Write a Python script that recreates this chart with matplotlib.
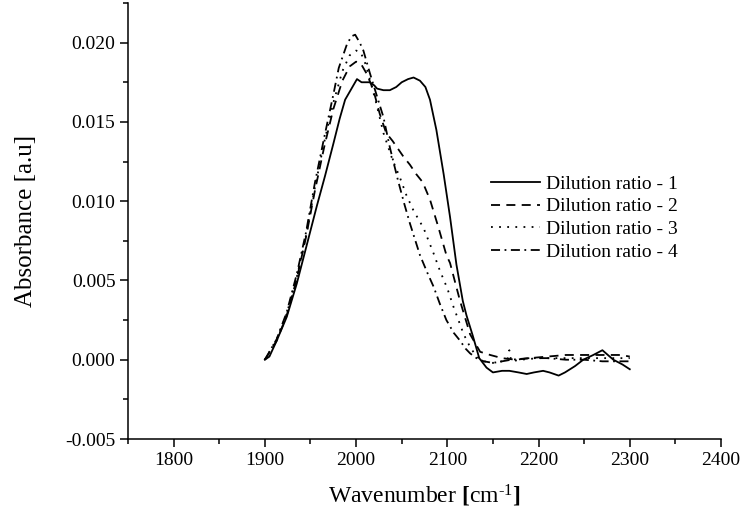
import matplotlib
matplotlib.use("Agg")
import matplotlib.pyplot as plt
from matplotlib.ticker import AutoMinorLocator, FormatStrFormatter, MultipleLocator

plt.rcParams['font.family'] = ['Liberation Serif', 'DejaVu Serif']
plt.rcParams['mathtext.fontset'] = 'custom'
plt.rcParams['mathtext.rm'] = 'Liberation Serif'
plt.rcParams['mathtext.bf'] = 'Liberation Serif:bold'
plt.rcParams['mathtext.it'] = 'Liberation Serif:italic'
plt.rcParams['axes.unicode_minus'] = False

# ---- data ----
wn1 = [1900, 1905, 1913, 1924, 1935, 1944, 1957, 1966, 1975, 1982, 1988, 1994, 1998, 2001,
       2006, 2015, 2020, 2023, 2030, 2037, 2044, 2050, 2057, 2063, 2070, 2076, 2081, 2088,
       2096, 2103, 2110, 2117, 2121, 2128, 2135, 2143, 2150, 2160, 2168, 2178, 2187, 2195,
       2205, 2212, 2222, 2229, 2240, 2249, 2260, 2270, 2276, 2282, 2292, 2300]
ab1 = [0.0000, 0.0002, 0.0012, 0.0027, 0.0048, 0.0068, 0.0097, 0.0116, 0.0136, 0.0152,
       0.0164, 0.0170, 0.0174, 0.0177, 0.0175, 0.0175, 0.0173, 0.0171, 0.0170, 0.0170,
       0.0172, 0.0175, 0.0177, 0.0178, 0.0176, 0.0172, 0.0164, 0.0145, 0.0117, 0.0090,
       0.0060, 0.0037, 0.0028, 0.0015, 0.0001, -0.0005, -0.0008, -0.0007, -0.0007, -0.0008,
       -0.0009, -0.0008, -0.0007, -0.0008, -0.0010, -0.0008, -0.0004, 0.0000, 0.0003,
       0.0006, 0.0003, 0.0000, -0.0003, -0.0006]

wn2 = [1900, 1913, 1924, 1935, 1945, 1955, 1965, 1975, 1985, 1993, 2000, 2005, 2012, 2019,
       2026, 2033, 2040, 2046, 2052, 2059, 2066, 2073, 2081, 2090, 2099, 2103, 2114, 2125,
       2136, 2147, 2160, 2175, 2190, 2210, 2230, 2250, 2270, 2290, 2300]
ab2 = [0.0000, 0.0012, 0.0028, 0.0051, 0.0077, 0.0107, 0.0134, 0.0158, 0.0176, 0.0185,
       0.0188, 0.0187, 0.0180, 0.0170, 0.0155, 0.0143, 0.0138, 0.0133, 0.0128, 0.0123,
       0.0117, 0.0112, 0.0101, 0.0084, 0.0066, 0.0061, 0.0037, 0.0016, 0.0005, 0.0003,
       0.0001, 0.0000, 0.0001, 0.0002, 0.0003, 0.0003, 0.0003, 0.0003, 0.0002]

wn3 = [1900, 1913, 1924, 1935, 1945, 1955, 1965, 1975, 1985, 1993, 2000, 2005, 2010, 2016,
       2022, 2030, 2040, 2048, 2055, 2063, 2074, 2085, 2092, 2100, 2107, 2118, 2125, 2132,
       2140, 2150, 2160, 2166, 2168, 2170, 2180, 2200, 2230, 2260, 2280, 2300]
ab3 = [0.0000, 0.0013, 0.0029, 0.0052, 0.0078, 0.0109, 0.0137, 0.0162, 0.0182, 0.0192,
       0.0195, 0.0194, 0.0187, 0.0175, 0.0162, 0.0143, 0.0126, 0.0115, 0.0104, 0.0094,
       0.0083, 0.0067, 0.0056, 0.0045, 0.0033, 0.0016, 0.0008, 0.0002, -0.0001, -0.0002,
       -0.0001, 0.0000, 0.0006, -0.0001, 0.0000, 0.0001, 0.0001, 0.0001, 0.0001, 0.0001]

wn4 = [1900, 1913, 1924, 1935, 1945, 1955, 1965, 1975, 1981, 1990, 1995, 1999, 2004, 2008,
       2015, 2023, 2030, 2037, 2046, 2053, 2059, 2070, 2078, 2085, 2092, 2099, 2107, 2114,
       2120, 2125, 2132, 2140, 2150, 2170, 2190, 2210, 2230, 2250, 2270, 2290, 2300]
ab4 = [0.0000, 0.0013, 0.0030, 0.0054, 0.0080, 0.0112, 0.0140, 0.0167, 0.0184, 0.0199,
       0.0204, 0.0205, 0.0200, 0.0195, 0.0181, 0.0166, 0.0153, 0.0134, 0.0113, 0.0098,
       0.0086, 0.0066, 0.0055, 0.0046, 0.0035, 0.0025, 0.0017, 0.0012, 0.0007, 0.0004,
       0.0001, -0.0001, -0.0002, 0.0000, 0.0001, 0.0001, 0.0000, 0.0000, -0.0001, -0.0001,
       -0.0001]

labels = ["Dilution ratio - 1", "Dilution ratio - 2", "Dilution ratio - 3", "Dilution ratio - 4"]

fig = plt.figure(figsize=(7.45, 5.24), dpi=100)
ax = fig.add_axes([0.1718, 0.1622, 0.7960, 0.8321])

lw = 1.3
ax.plot(wn1, ab1, color='black', lw=lw, linestyle='-', label=labels[0])
ax.plot(wn2, ab2, color='black', lw=lw, linestyle=(0, (5, 3.5)), label=labels[1])
ax.plot(wn3, ab3, color='black', lw=lw, linestyle=(0, (1, 3.5)), label=labels[2])
ax.plot(wn4, ab4, color='black', lw=lw, linestyle=(0, (5, 2.5, 1, 2.5)), label=labels[3])

ax.set_xlim(1750, 2400)
ax.set_ylim(-0.005, 0.0225)
ax.xaxis.set_major_locator(MultipleLocator(100))
ax.xaxis.set_minor_locator(AutoMinorLocator(2))
ax.yaxis.set_major_locator(MultipleLocator(0.005))
ax.yaxis.set_minor_locator(AutoMinorLocator(2))
ax.yaxis.set_major_formatter(FormatStrFormatter('%.3f'))

for s in ['top', 'right']:
    ax.spines[s].set_visible(False)
for s in ['left', 'bottom']:
    ax.spines[s].set_linewidth(1.1)

ax.tick_params(which='major', direction='out', length=6, width=1.1, labelsize=14, pad=3)
ax.tick_params(which='minor', direction='out', length=3.5, width=1.1)

ax.set_xlabel('Wavenumber $\\mathbf{[}$cm$^{\\text{-1}}$$\\mathbf{]}$', fontsize=17, labelpad=10)
ax.set_ylabel('Absorbance [a.u]', fontsize=18, labelpad=20)

ax.legend(loc='upper left', bbox_to_anchor=(0.612, 0.605), frameon=False, fontsize=14,
          handlelength=2.5, handletextpad=0.35, labelspacing=0.26, borderpad=0, borderaxespad=0)

fig.savefig('out.png', dpi=100)
